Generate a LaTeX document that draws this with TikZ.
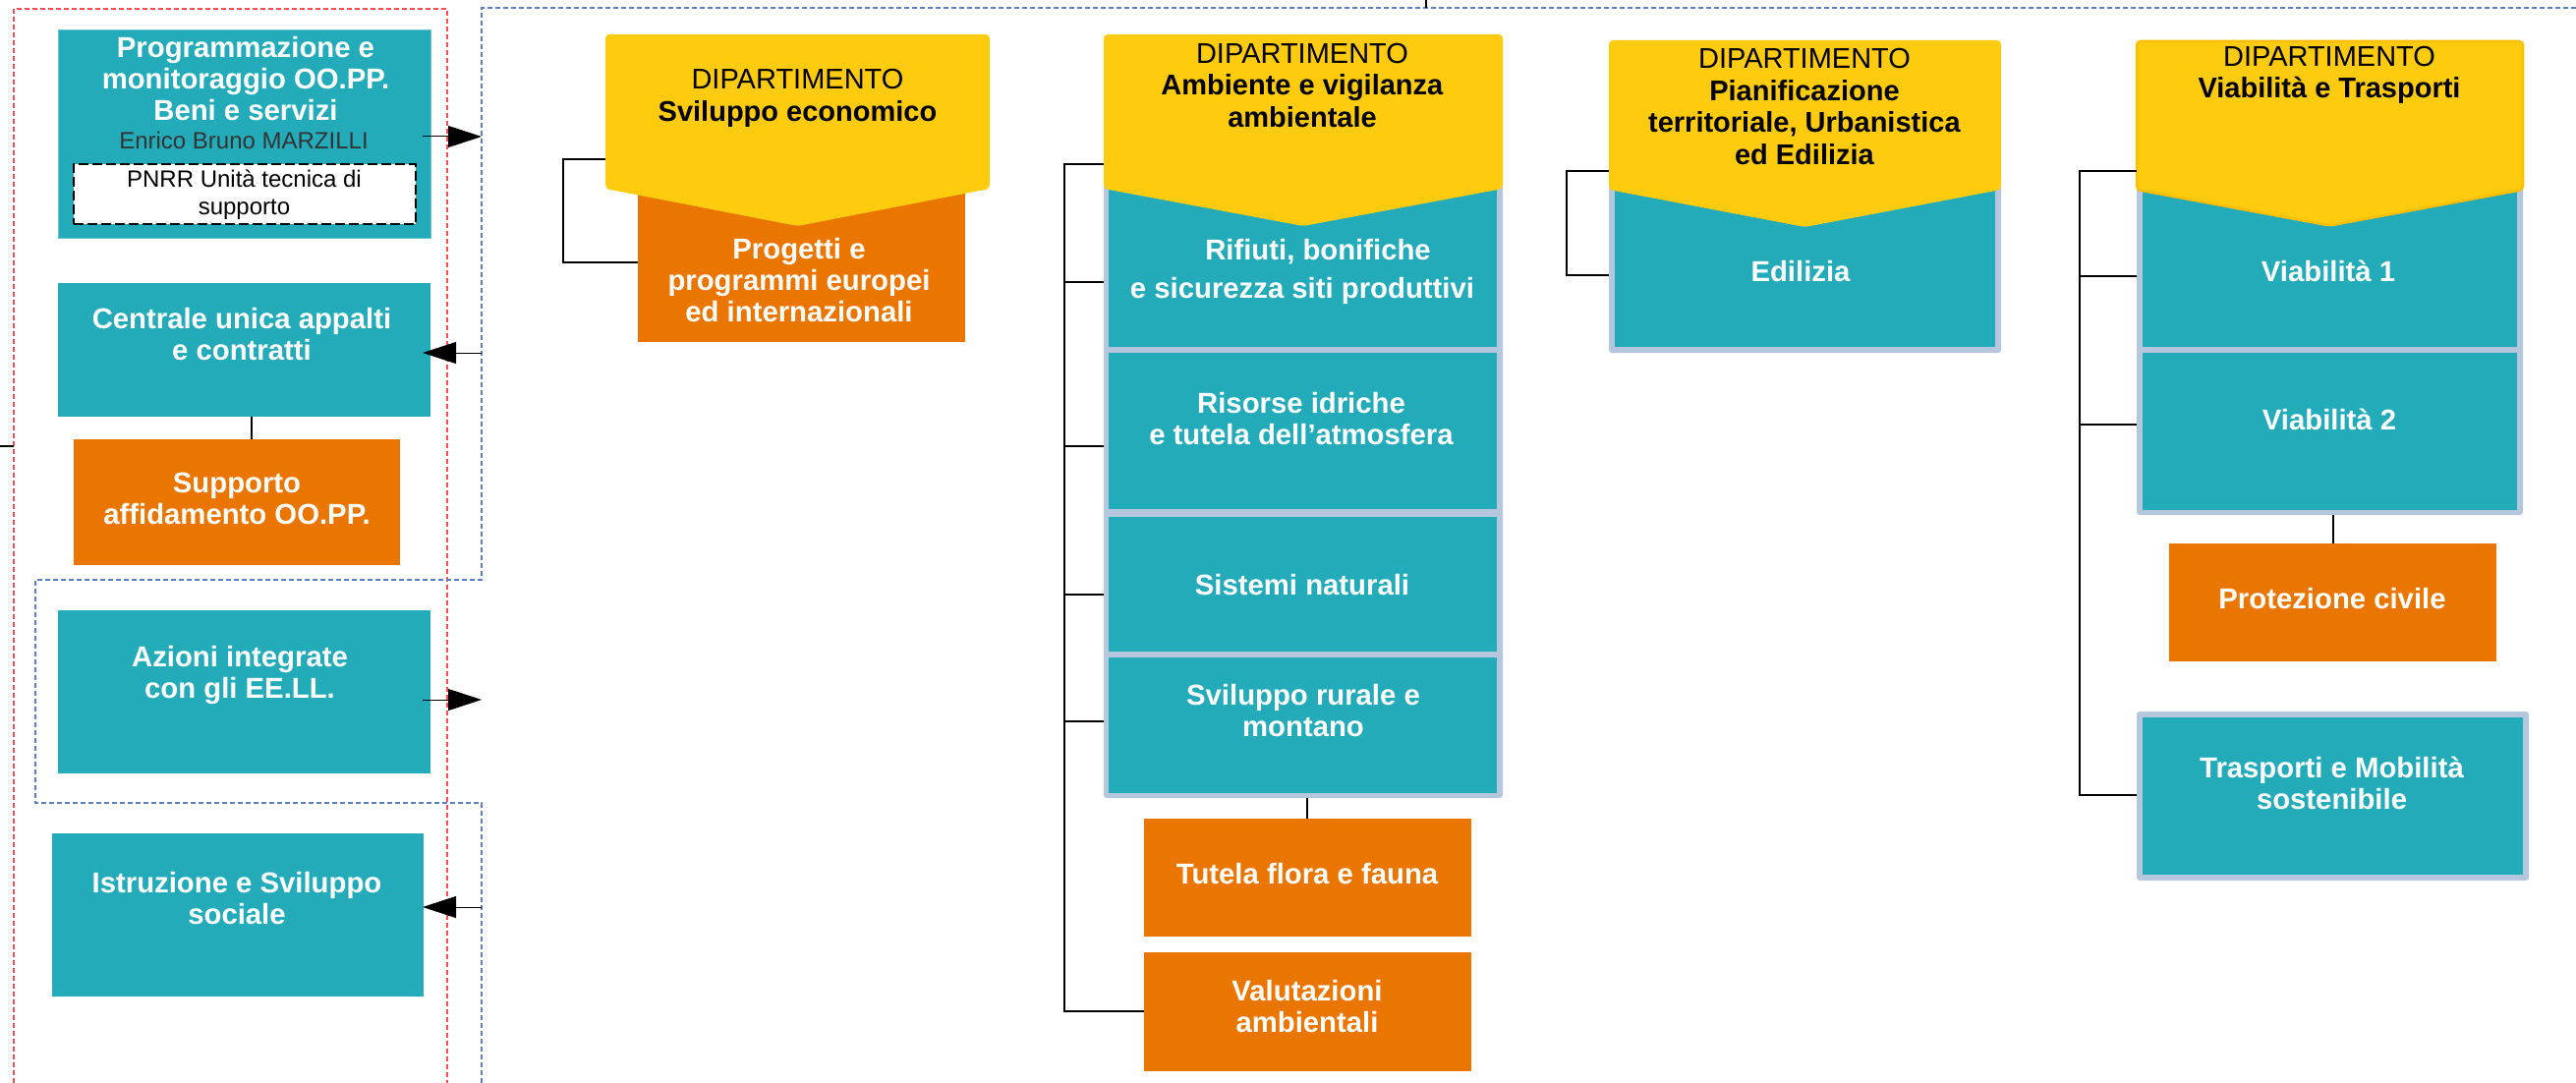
\documentclass[tikz,border=0pt]{standalone}
\usepackage{fontspec}
\setmainfont{Liberation Sans}
\usetikzlibrary{arrows.meta,fit,calc}
\definecolor{teal1}{HTML}{24ABB9}
\definecolor{orng}{HTML}{EA7600}
\definecolor{yel}{HTML}{FECB0F}
\definecolor{yelb}{HTML}{FFBF00}
\definecolor{lblue}{HTML}{B4C7DC}
\definecolor{dred}{HTML}{FF4D4D}
\definecolor{dblue}{HTML}{5B7FC4}
\definecolor{namegray}{HTML}{333333}
\begin{document}
\begin{tikzpicture}[x=1pt,y=-1pt,
 box/.style={inner sep=0pt, outer sep=0pt},
 tealbox/.style={box, fill=teal1},
 orbox/.style={box, fill=orng},
 grp/.style={box, fill=lblue, rounded corners=3pt},
 wt/.style={text=white, font=\fontsize{29.3}{32}\selectfont\bfseries, align=center, inner sep=0pt},
 bt/.style={text=black, font=\fontsize{29}{32.5}\selectfont, align=center, inner sep=0pt},
 conn/.style={line width=2pt, black},
 arr/.style={line width=1pt, black, -{Triangle[length=34pt,width=22pt]}},
 reddash/.style={draw=dred, line width=1.3pt, dash pattern=on 5pt off 3pt},
 bluedash/.style={draw=dblue, line width=1.3pt, dash pattern=on 5pt off 3pt},
 yshape/.style={fill=yel, rounded corners=4pt},
]
\useasboundingbox (0,0) rectangle (2621,1102);

% ---------- dashed frames ----------
\draw[reddash] (14,1102) -- (14,9) -- (455,9) -- (455,1102);
\draw[bluedash] (2621,8) -- (490,8) -- (490,590) -- (36,590) -- (36,817) -- (490,817) -- (490,1102);
\coordinate (topc) at (1451,0);
\draw[conn, line width=1.5pt] (topc) -- (1451,8);
\coordinate (leftc) at (0,454);
\draw[line width=1.5pt] (leftc) -- (14,454);

% ---------- left column ----------
\node[tealbox, draw=teal1!70!white, line width=1pt, fit={(59,31)(438,243)}] (prog) {};
\node[wt] (progt) at (250,80) {Programmazione e\\monitoraggio OO.PP.\\Beni e servizi};
\node[text=namegray, font=\fontsize{24}{28}\selectfont, inner sep=0pt] (progn) at (248,143) {Enrico Bruno MARZILLI};
\node[box, fill=white, draw=black, line width=1.5pt, dash pattern=on 10pt off 4pt, fit={(75,167)(423,228)}] (pnrr) {};
\node[text=black, font=\fontsize{24}{28}\selectfont, align=center, inner sep=0pt] (pnrrt) at (248.5,198) {PNRR Unità tecnica di\\supporto};

\node[tealbox, fit={(59,288)(438,424)}] (cent) {};
\node[wt] (centt) at (246,340) {Centrale unica appalti\\e contratti};
\node[orbox, fit={(75,447)(407,575)}] (supp) {};
\node[wt] (suppt) at (241,507.5) {Supporto\\affidamento OO.PP.};
\draw[conn] (cent.south -| 256,0) -- (supp.north -| 256,0);

\node[tealbox, fit={(59,621)(438,787)}] (azi) {};
\node[wt] (azit) at (244,686.5) {Azioni integrate\\con gli EE.LL.};
\node[tealbox, fit={(53,848)(431,1014)}] (istr) {};
\node[wt] (istrt) at (241,914) {Istruzione e Sviluppo\\sociale};

\coordinate (bl1) at (490,139);
\coordinate (bl2) at (490,359);
\coordinate (bl3) at (490,712);
\coordinate (bl4) at (490,923);
\draw[arr] ($(prog.east |- bl1)+(-8,0)$) -- (bl1);
\draw[arr] (bl2) -- ($(cent.east |- bl2)+(-8,0)$);
\draw[arr] ($(azi.east |- bl3)+(-8,0)$) -- (bl3);
\draw[arr] (bl4) -- ($(istr.east |- bl4)+(-1,0)$);

% ---------- Dipartimento 1 ----------
\node[orbox, fit={(649,185)(982,348)}] (prog1) {};
\node[wt] (prog1t) at (813,285) {Progetti e\\programmi europei\\ed internazionali};
\node[box, fit={(616,35)(1007,230)}] (d1) {};
\fill[yshape] (d1.south) -- ([yshift=38pt]d1.south west) -- (d1.north west) -- (d1.north east) -- ([yshift=38pt]d1.south east) -- cycle;
\node[bt] (d1t) at (811.5,100) {DIPARTIMENTO\\\textbf{Sviluppo economico}};
\draw[conn] (d1.west |- 0,162) -- (573,162) -- (573,267) -- (prog1.west |- 0,267);

% ---------- Dipartimento 2 ----------
\node[grp, fit={(1123,185)(1529,812)}] (g2) {};
\node[tealbox, fit={(1128,190)(1523,353)}] (rif) {};
\node[tealbox, fit={(1128,359)(1523,518)}] (ris) {};
\node[tealbox, fit={(1128,526)(1523,663)}] (sis) {};
\node[tealbox, fit={(1128,669)(1523,807)}] (svi) {};
\node[box, fit={(1123,35)(1529,230)}] (d2) {};
\fill[yshape] (d2.south) -- ([yshift=38pt]d2.south west) -- (d2.north west) -- (d2.north east) -- ([yshift=38pt]d2.south east) -- cycle;
\node[bt] (d2t) at (1325,87) {DIPARTIMENTO\\\textbf{Ambiente e vigilanza}\\\textbf{ambientale}};
\node[wt] (rift) at (1325,276.5) {\hspace*{32pt}Rifiuti, bonifiche\\[7pt]e sicurezza siti produttivi};
\node[wt] (rist) at (1324,426) {Risorse idriche\\e tutela dell’atmosfera};
\node[wt] (sist) at (1325,595) {Sistemi naturali};
\node[wt] (svit) at (1326,723) {Sviluppo rurale e\\montano};
\node[orbox, fit={(1164,833)(1497,953)}] (tut) {};
\node[wt] (tutt) at (1330,889) {Tutela flora e fauna};
\node[orbox, fit={(1164,969)(1497,1090)}] (val) {};
\node[wt] (valt) at (1330,1024.5) {Valutazioni\\ambientali};
\draw[conn] (g2.south -| 1330,0) -- (tut.north -| 1330,0);
\draw[conn] (d2.west |- 0,167) -- (1083,167) -- (1083,1029) -- (val.west |- 0,1029);
\foreach \yy in {287,454,605,734} \draw[conn] (1083,\yy) -- (g2.west |- 0,\yy);

% ---------- Dipartimento 3 ----------
\node[grp, fit={(1637,185)(2036,359)}] (g3) {};
\node[tealbox, fit={(1643,190)(2030,353)}] (edil) {};
\node[box, fit={(1637,41)(2036,231)}] (d3) {};
\fill[yshape] (d3.south) -- ([yshift=38pt]d3.south west) -- (d3.north west) -- (d3.north east) -- ([yshift=38pt]d3.south east) -- cycle;
\node[bt] (d3t) at (1836,108.5) {DIPARTIMENTO\\\textbf{Pianificazione}\\\textbf{territoriale, Urbanistica}\\\textbf{ed Edilizia}};
\node[wt] (edilt) at (1832,276) {Edilizia};
\draw[conn] (d3.west |- 0,174) -- (1594,174) -- (1594,280) -- (g3.west |- 0,280);

% ---------- Dipartimento 4 ----------
\node[grp, fit={(2174,185)(2567,524)}] (g4) {};
\node[tealbox, fit={(2180,190)(2561,353)}] (via1) {};
\node[tealbox, fit={(2180,359)(2561,519)}] (via2) {};
\node[box, fit={(2174,41)(2567,231)}] (d4) {};
\filldraw[yshape, draw=yelb, line width=2.5pt] ([yshift=1.5pt]d4.south) -- ([yshift=38pt]d4.south west) -- ([yshift=-1pt]d4.north west) -- ([yshift=-1pt]d4.north east) -- ([yshift=38pt]d4.south east) -- cycle;
\node[bt] (d4t) at (2370,76.5) {DIPARTIMENTO\\\textbf{Viabilità e Trasporti}};
\node[wt] (via1t) at (2369,276) {Viabilità 1};
\node[wt] (via2t) at (2370,427) {Viabilità 2};
\node[orbox, fit={(2207,553)(2540,673)}] (prot) {};
\node[wt] (prott) at (2373,609) {Protezione civile};
\draw[conn] (g4.south -| 2374,0) -- (prot.north -| 2374,0);
\node[grp, fit={(2174,724)(2573,896)}] (g4b) {};
\node[tealbox, fit={(2180,730)(2567,890)}] (tras) {};
\node[wt] (trast) at (2372.5,797) {Trasporti e Mobilità\\sostenibile};
\draw[conn] (d4.west |- 0,174) -- (2116,174) -- (2116,809) -- (g4b.west |- 0,809);
\foreach \yy in {281,432} \draw[conn] (2116,\yy) -- (g4.west |- 0,\yy);
\end{tikzpicture}
\end{document}
